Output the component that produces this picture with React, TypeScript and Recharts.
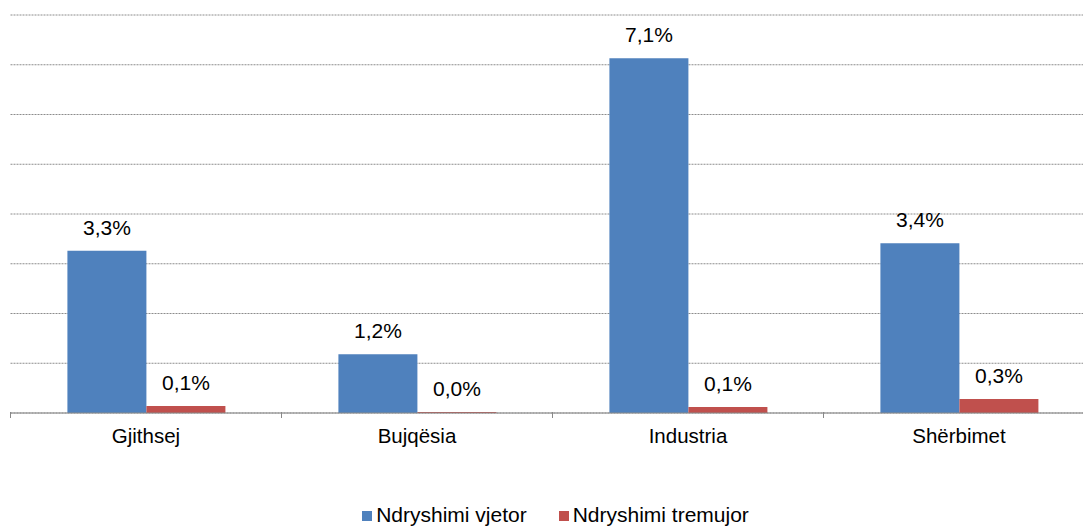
import React from "react";
import {
  BarChart,
  Bar,
  XAxis,
  YAxis,
  CartesianGrid,
  Legend,
  LabelList,
} from "recharts";

const categories = ["Gjithsej", "Bujqësia", "Industria", "Shërbimet"];
const annualChange = [3.26, 1.18, 7.13, 3.41];
const quarterlyChange = [0.14, 0.02, 0.12, 0.28];
const yTicks = [0, 1, 2, 3, 4, 5, 6, 7, 8];
const seriesOrder = ["Ndryshimi vjetor", "Ndryshimi tremujor"];

const BLUE = "#4F81BD";
const RED = "#C0504D";
const FONT = "'Liberation Sans', Arial, sans-serif";
const FS = 21;

const data = categories.map((name, i) => ({
  name,
  vjetor: annualChange[i],
  tremujor: quarterlyChange[i],
}));

const fmt = (v: number) => v.toFixed(1).replace(".", ",") + "%";

// the original plot runs a bit past the right edge of the picture
const CHART_W = 1097;
const MARGIN_L = 10.5;
const MARGIN_R = 2.5;
const BAND = (CHART_W - MARGIN_L - MARGIN_R) / categories.length;

function CategoryTick(props: any) {
  const { x, y, payload, index } = props;
  const last = index === categories.length - 1;
  return (
    <g>
      <line x1={x - BAND / 2} x2={x - BAND / 2} y1={y - 9} y2={y - 3} stroke="#888" />
      {last && (
        <line x1={x + BAND / 2} x2={x + BAND / 2} y1={y - 9} y2={y - 3} stroke="#888" />
      )}
      <text
        x={x}
        y={y + 22}
        textAnchor="middle"
        fontSize={20.5}
        fontFamily={FONT}
        fill="#000"
      >
        {payload.value}
      </text>
    </g>
  );
}

export default function App() {
  return (
    <div
      style={{
        position: "fixed",
        left: 0,
        top: 0,
        width: 1083,
        height: 527,
        overflow: "hidden",
        background: "#fff",
      }}
    >
      <BarChart
        width={CHART_W}
        height={527}
        data={data}
        margin={{ top: 15, right: MARGIN_R, bottom: 0, left: MARGIN_L }}
        barGap={0}
        barCategoryGap="21%"
      >
        <CartesianGrid
          vertical={false}
          stroke="#8c8c8c"
          strokeDasharray="2 1"
        />
        <XAxis
          dataKey="name"
          axisLine={{ stroke: "#888" }}
          tickLine={false}
          tick={<CategoryTick />}
          height={90}
          interval={0}
        />
        <YAxis hide domain={[0, 8]} ticks={yTicks} />
        <Legend
          verticalAlign="bottom"
          align="center"
          iconType="square"
          iconSize={10}
          itemSorter={(item: any) => seriesOrder.indexOf(item.value)}
          wrapperStyle={{ fontFamily: FONT, fontSize: FS, transform: "translateX(19px)" }}
          formatter={(value: string) => (
            <span style={{ color: "#000", marginRight: 22 }}>{value}</span>
          )}
        />
        <Bar dataKey="vjetor" name={seriesOrder[0]} fill={BLUE} isAnimationActive={false}>
          <LabelList
            dataKey="vjetor"
            position="top"
            offset={16}
            formatter={(v: any) => fmt(Number(v))}
            style={{ fontFamily: FONT, fontSize: FS, fill: "#000" }}
          />
        </Bar>
        <Bar dataKey="tremujor" name={seriesOrder[1]} fill={RED} isAnimationActive={false}>
          <LabelList
            dataKey="tremujor"
            position="top"
            offset={16}
            formatter={(v: any) => fmt(Number(v))}
            style={{ fontFamily: FONT, fontSize: FS, fill: "#000" }}
          />
        </Bar>
      </BarChart>
    </div>
  );
}
